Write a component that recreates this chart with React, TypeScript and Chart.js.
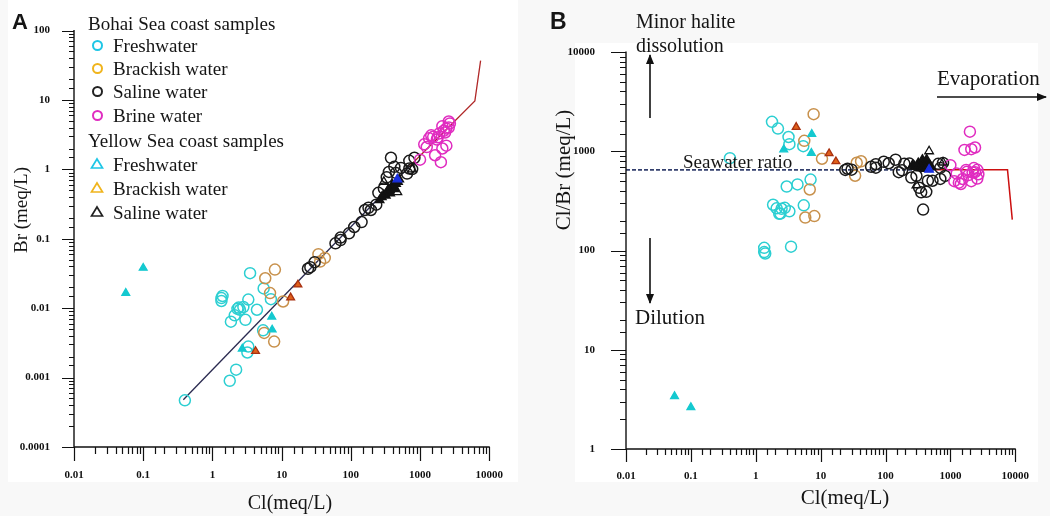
import React, { useEffect, useRef } from 'react';
import { Chart, registerables } from 'chart.js';

Chart.register(...registerables);

// ---- Bohai Sea coast samples (Cl and Br in meq/L) ----
const bohaiFreshCl = [0.4, 1.78, 2.2, 3.2, 3.3, 5.4, 3.0, 4.4, 7.0, 5.5, 1.85, 2.1, 2.5, 2.4, 3.3, 2.8, 1.35, 1.4, 1.35, 3.5, 2.3];
const bohaiFreshBr = [0.00047, 0.0009, 0.0013, 0.0023, 0.0028, 0.0048, 0.0068, 0.0095, 0.0135, 0.0193, 0.0064, 0.0079, 0.0095, 0.0102, 0.0133, 0.0104, 0.0127, 0.015, 0.014, 0.032, 0.0098];

const bohaiBrackishCl = [7.8, 5.6, 10.5, 6.8, 5.8, 8.0, 34, 36, 42];
const bohaiBrackishBr = [0.0033, 0.0044, 0.0125, 0.0165, 0.027, 0.036, 0.06, 0.047, 0.053];

const bohaiSalineCl = [24, 26, 30, 60, 71, 71, 94, 112, 143, 160, 180, 195, 233, 250, 300, 330, 355, 380, 425, 450, 530, 650, 700, 770, 830, 700];
const bohaiSalineBr = [0.037, 0.039, 0.046, 0.086, 0.096, 0.104, 0.12, 0.148, 0.174, 0.26, 0.28, 0.26, 0.31, 0.46, 0.53, 0.77, 0.92, 1.47, 1.09, 0.89, 1.05, 0.87, 1.33, 1.01, 1.47, 1.03];

const bohaiBrineCl = [2000, 1650, 2100, 2400, 1000, 1750, 2300, 2600, 1350, 1550, 2100, 2600, 2700, 1150, 1450, 2200, 1900, 2400, 1250, 1800];
const bohaiBrineBr = [1.27, 1.6, 2.0, 2.2, 1.38, 2.7, 3.4, 4.0, 2.8, 2.95, 4.2, 4.9, 4.6, 2.3, 3.1, 3.6, 3.3, 3.9, 2.1, 2.9];

// ---- Yellow Sea coast samples ----
const yellowFreshCl = [0.056, 0.1, 2.7, 7.3, 7.2];
const yellowFreshBr = [0.0165, 0.038, 0.0026, 0.0049, 0.0075];

const yellowBrackishCl = [4.2, 13.5, 17.2];
const yellowBrackishBr = [0.0024, 0.0142, 0.0218];

const yellowSalineCl = [260, 280, 300, 320, 330, 350, 360, 370, 390, 400, 420, 430, 450, 480, 500, 470, 300, 770];
const yellowSalineBr = [0.36, 0.4, 0.43, 0.42, 0.46, 0.52, 0.5, 0.45, 0.55, 0.6, 0.57, 0.52, 0.62, 0.66, 0.72, 0.47, 0.66, 1.0];
const yellowSalineHollow = [false, false, false, false, false, false, false, false, false, false, false, false, false, false, false, true, true, true];

// seawater reference sample
const seawaterCl = [470];
const seawaterBr = [0.72];

// ---- reference lines ----
const dilutionLineCl = [0.38, 700];
const dilutionLineBr = [0.00048, 1.1];
const evaporationLineCl = [700, 6200, 7500];
const evaporationLineBr = [1.1, 9.7, 37];

const seawaterRatioCl = [0.01, 600];
const seawaterRatio = [650, 650];
const evaporationRatioCl = [600, 7600, 9000];
const evaporationRatio = [650, 650, 205];

// ---- axis ranges ----
const clRange = [0.01, 10000];
const brRange = [0.0001, 100];
const ratioRange = [1, 10000];

const SERIF = '"Liberation Serif", "Times New Roman", serif';
const SANS = '"Liberation Sans", Arial, sans-serif';

const COL = {
  cyan: '#2ccfd2',
  cyanFill: '#14c9d0',
  tan: '#c8914c',
  black: '#1a1a1a',
  magenta: '#e02cc0',
  triFill: '#e0601a',
  triEdge: '#a83010',
  blue: '#1a30e0',
  legendCyan: '#1ec6e6',
  legendYellow: '#f0b41c',
};

type Pt = { x: number; y: number };
const pairs = (xs: number[], ys: number[]): Pt[] => xs.map((x, i) => ({ x, y: ys[i] }));
const ratioPairs = (cl: number[], br: number[]): Pt[] => cl.map((x, i) => ({ x, y: x / br[i] }));

const isDecade = (v: number) => Math.abs(Math.log10(v) - Math.round(Math.log10(v))) < 1e-6;
const decadeLabel = (v: any) => {
  const n = Number(v);
  return isDecade(n) ? String(Number(n.toPrecision(1))) : '';
};

// draws the two axis lines with long decade ticks and short minor ticks
const axisTicks = {
  id: 'axisTicks',
  afterDatasetsDraw(chart: any, _args: any, opts: any) {
    const { ctx, chartArea, scales } = chart;
    const sx = scales.x;
    const sy = scales.y;
    ctx.save();
    ctx.strokeStyle = '#111';
    ctx.lineWidth = 1.4;
    ctx.beginPath();
    ctx.moveTo(chartArea.left, chartArea.top - 0.5);
    ctx.lineTo(chartArea.left, chartArea.bottom);
    ctx.lineTo(chartArea.right + 0.5, chartArea.bottom);
    ctx.stroke();
    ctx.lineWidth = 1.2;
    ctx.beginPath();
    for (const t of sx.ticks) {
      const px = Math.round(sx.getPixelForValue(t.value)) + 0.5;
      const len = isDecade(t.value) ? opts.xMajor : opts.xMinor;
      ctx.moveTo(px, chartArea.bottom);
      ctx.lineTo(px, chartArea.bottom + len);
    }
    for (const t of sy.ticks) {
      const py = Math.round(sy.getPixelForValue(t.value)) + 0.5;
      const len = isDecade(t.value) ? opts.yMajor : opts.yMinor;
      ctx.moveTo(chartArea.left, py);
      ctx.lineTo(chartArea.left - len, py);
    }
    ctx.stroke();
    ctx.restore();
  },
};

const tickFont = { family: SERIF, size: 11, weight: 'bold' as const };

function scatter(label: string, data: Pt[], color: string, extra: any = {}) {
  return {
    label,
    data,
    pointStyle: 'circle',
    pointRadius: 5.5,
    pointBorderWidth: 1.5,
    pointBorderColor: color,
    pointBackgroundColor: 'rgba(0,0,0,0)',
    showLine: false,
    ...extra,
  };
}

function tri(label: string, data: Pt[], fill: any, edge: string, extra: any = {}) {
  return {
    label,
    data,
    pointStyle: 'triangle',
    pointRadius: 4.5,
    pointBorderWidth: 1.3,
    pointBorderColor: edge,
    pointBackgroundColor: fill,
    showLine: false,
    ...extra,
  };
}

function line(label: string, data: Pt[], color: string, width: number, dash: number[] = []) {
  return {
    label,
    data,
    showLine: true,
    borderColor: color,
    borderWidth: width,
    borderDash: dash,
    pointRadius: 0,
    fill: false,
    tension: 0,
  };
}

function sampleSets(toXY: (cl: number[], br: number[]) => Pt[]) {
  return [
    tri('Seawater', toXY(seawaterCl, seawaterBr), COL.blue, COL.blue, { pointRadius: 5 }),
    tri('Yellow Sea brackish water', toXY(yellowBrackishCl, yellowBrackishBr), COL.triFill, COL.triEdge),
    tri('Yellow Sea freshwater', toXY(yellowFreshCl, yellowFreshBr), COL.cyanFill, COL.cyanFill),
    tri(
      'Yellow Sea saline water',
      toXY(yellowSalineCl, yellowSalineBr),
      yellowSalineHollow.map((h) => (h ? 'rgba(0,0,0,0)' : '#111')),
      '#111',
      { pointRadius: 5 }
    ),
    scatter('Bohai brine water', toXY(bohaiBrineCl, bohaiBrineBr), COL.magenta),
    scatter('Bohai saline water', toXY(bohaiSalineCl, bohaiSalineBr), COL.black),
    scatter('Bohai brackish water', toXY(bohaiBrackishCl, bohaiBrackishBr), COL.tan),
    scatter('Bohai freshwater', toXY(bohaiFreshCl, bohaiFreshBr), COL.cyan),
  ];
}

function baseOptions(xPad: number, yPad: number, xHeight: number, yWidth: number, padding: any, yMin: number, yMax: number, tickOpts: any) {
  return {
    responsive: false,
    animation: false as const,
    events: [],
    layout: { padding },
    plugins: {
      legend: { display: false },
      tooltip: { enabled: false },
      axisTicks: tickOpts,
    },
    scales: {
      x: {
        type: 'logarithmic' as const,
        position: 'bottom' as const,
        min: clRange[0],
        max: clRange[1],
        grid: { display: false, drawTicks: false },
        border: { display: false },
        ticks: { autoSkip: false, maxRotation: 0, padding: xPad, font: tickFont, color: '#111', callback: decadeLabel },
        afterFit: (s: any) => {
          s.height = xHeight;
        },
      },
      y: {
        type: 'logarithmic' as const,
        position: 'left' as const,
        min: yMin,
        max: yMax,
        grid: { display: false, drawTicks: false },
        border: { display: false },
        ticks: { autoSkip: false, padding: yPad, font: tickFont, color: '#111', callback: decadeLabel },
        afterFit: (s: any) => {
          s.width = yWidth;
        },
      },
    },
  };
}

function BrChart() {
  const ref = useRef<HTMLCanvasElement>(null);
  useEffect(() => {
    const chart = new Chart(ref.current as HTMLCanvasElement, {
      type: 'scatter',
      data: {
        datasets: [
          ...sampleSets(pairs),
          line('Evaporation', pairs(evaporationLineCl, evaporationLineBr), '#b02828', 1.3),
          line('Seawater dilution', pairs(dilutionLineCl, dilutionLineBr), '#2a2a50', 1.3),
        ] as any,
      },
      options: baseOptions(22, 24, 69, 74, { top: 15, right: 19, left: 0, bottom: 0 }, brRange[0], brRange[1], {
        xMajor: 14,
        xMinor: 7,
        yMajor: 12,
        yMinor: 5,
      }) as any,
      plugins: [axisTicks],
    });
    return () => chart.destroy();
  }, []);
  return <canvas ref={ref} width={525} height={516} style={{ position: 'absolute', left: 0, top: 0 }} />;
}

function RatioChart() {
  const ref = useRef<HTMLCanvasElement>(null);
  useEffect(() => {
    const chart = new Chart(ref.current as HTMLCanvasElement, {
      type: 'scatter',
      data: {
        datasets: [
          ...sampleSets(ratioPairs),
          line('Evaporation', pairs(evaporationRatioCl, evaporationRatio), '#cc1010', 1.5),
          line('Seawater ratio', pairs(seawaterRatioCl, seawaterRatio), '#34406e', 1.8, [4, 2]),
        ] as any,
      },
      options: baseOptions(21, 31, 67, 101, { top: 52, right: 30, left: 0, bottom: 0 }, ratioRange[0], ratioRange[1], {
        xMajor: 13,
        xMinor: 6,
        yMajor: 15,
        yMinor: 6,
      }) as any,
      plugins: [axisTicks],
    });
    return () => chart.destroy();
  }, []);
  return <canvas ref={ref} width={525} height={516} style={{ position: 'absolute', left: 525, top: 0 }} />;
}

type TxtProps = {
  x: number;
  y: number;
  size: number;
  children: React.ReactNode;
  center?: boolean;
  rotate?: boolean;
  bold?: boolean;
  family?: string;
};

function Txt({ x, y, size, children, center, rotate, bold, family }: TxtProps) {
  let transform = 'translateY(-50%)';
  if (center) transform = 'translate(-50%, -50%)';
  if (rotate) transform = 'translate(-50%, -50%) rotate(-90deg)';
  return (
    <div
      style={{
        position: 'absolute',
        left: x,
        top: y,
        transform,
        fontSize: size,
        lineHeight: 1,
        whiteSpace: 'nowrap',
        fontFamily: family || SERIF,
        fontWeight: bold ? 'bold' : 'normal',
        color: '#151515',
      }}
    >
      {children}
    </div>
  );
}

function CircleMark({ x, y, color }: { x: number; y: number; color: string }) {
  return (
    <div
      style={{
        position: 'absolute',
        left: x - 5.5,
        top: y - 5.5,
        width: 11,
        height: 11,
        boxSizing: 'border-box',
        border: `2px solid ${color}`,
        borderRadius: '50%',
      }}
    />
  );
}

function TriMark({ x, y, color }: { x: number; y: number; color: string }) {
  return (
    <svg width={14} height={13} style={{ position: 'absolute', left: x - 7, top: y - 7 }}>
      <polygon points="7,2 12.5,11 1.5,11" fill="none" stroke={color} strokeWidth={1.7} />
    </svg>
  );
}

const legendBohai = [
  { text: 'Freshwater', color: COL.legendCyan },
  { text: 'Brackish water', color: COL.legendYellow },
  { text: 'Saline water', color: '#222' },
  { text: 'Brine water', color: COL.magenta },
];
const legendYellow = [
  { text: 'Freshwater', color: COL.legendCyan },
  { text: 'Brackish water', color: COL.legendYellow },
  { text: 'Saline water', color: '#222' },
];

export default function App() {
  const bohaiRows = [45, 68, 91, 115];
  const yellowRows = [164, 188, 212];
  return (
    <div style={{ position: 'fixed', left: 0, top: 0, width: 1050, height: 516, background: '#f8f8f8', overflow: 'hidden' }}>
      <div style={{ position: 'absolute', left: 8, top: 0, width: 510, height: 482, background: '#fff' }} />
      <div style={{ position: 'absolute', left: 575, top: 43, width: 463, height: 439, background: '#fff' }} />
      <BrChart />
      <RatioChart />

      {/* panel A */}
      <Txt x={12} y={22} size={22} bold family={SANS}>A</Txt>
      <Txt x={88} y={23} size={19}>Bohai Sea coast samples</Txt>
      {legendBohai.map((l, i) => (
        <React.Fragment key={'b' + i}>
          <CircleMark x={97} y={bohaiRows[i]} color={l.color} />
          <Txt x={113} y={bohaiRows[i]} size={19}>{l.text}</Txt>
        </React.Fragment>
      ))}
      <Txt x={88} y={140} size={19}>Yellow Sea coast samples</Txt>
      {legendYellow.map((l, i) => (
        <React.Fragment key={'y' + i}>
          <TriMark x={97} y={yellowRows[i]} color={l.color} />
          <Txt x={113} y={yellowRows[i]} size={19}>{l.text}</Txt>
        </React.Fragment>
      ))}
      <Txt x={20} y={210} size={19} rotate>Br (meq/L)</Txt>
      <Txt x={290} y={502} size={20} center>Cl(meq/L)</Txt>

      {/* panel B */}
      <Txt x={550} y={21} size={23} bold family={SANS}>B</Txt>
      <Txt x={563} y={170} size={21} rotate>Cl/Br (meq/L)</Txt>
      <Txt x={845} y={497} size={21} center>Cl(meq/L)</Txt>
      <Txt x={636} y={21} size={20}>Minor halite</Txt>
      <Txt x={636} y={45} size={20}>dissolution</Txt>
      <Txt x={635} y={317} size={21}>Dilution</Txt>
      <Txt x={937} y={78} size={21}>Evaporation</Txt>
      <Txt x={683} y={161} size={19}>Seawater ratio</Txt>

      <svg width={1050} height={516} style={{ position: 'absolute', left: 0, top: 0 }}>
        <defs>
          <marker id="head" markerUnits="userSpaceOnUse" markerWidth="10" markerHeight="10" refX="9" refY="5" orient="auto">
            <path d="M0,1 L10,5 L0,9 z" fill="#111" />
          </marker>
        </defs>
        <line x1={650} y1={118} x2={650} y2={55} stroke="#111" strokeWidth={1.6} markerEnd="url(#head)" />
        <line x1={650} y1={238} x2={650} y2={303} stroke="#111" strokeWidth={1.6} markerEnd="url(#head)" />
        <line x1={937} y1={97} x2={1046} y2={97} stroke="#111" strokeWidth={1.6} markerEnd="url(#head)" />
      </svg>
    </div>
  );
}
